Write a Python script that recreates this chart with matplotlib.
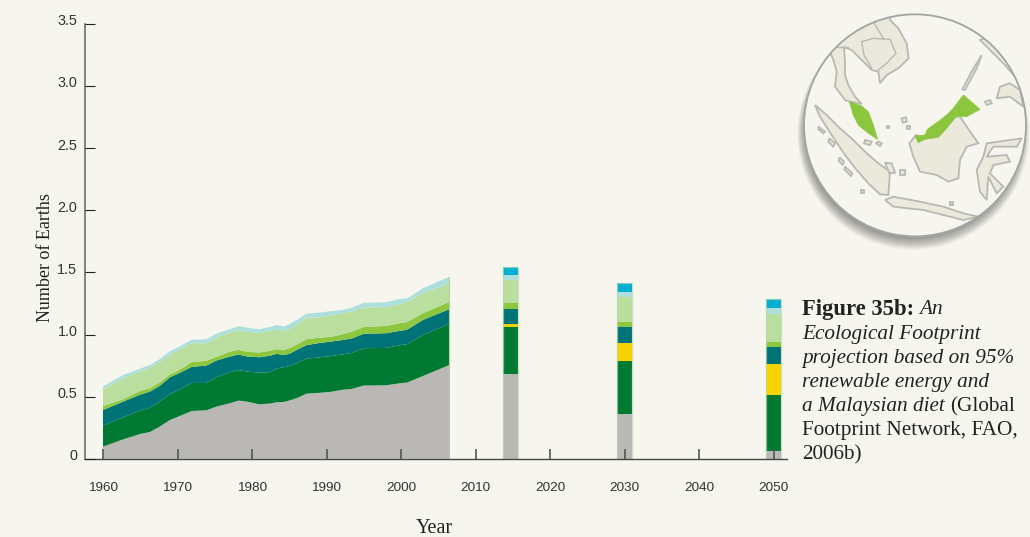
import matplotlib
matplotlib.use("Agg")
import matplotlib.pyplot as plt
from matplotlib.patches import Circle, Polygon
from matplotlib.transforms import ScaledTranslation

BG = "#f6f5ee"
years = [1960, 1962.7, 1965, 1966.3, 1967.6, 1969, 1970, 1971.9, 1973.9, 1975.2, 1977, 1978.2,
         1979.3, 1981, 1982.4, 1983.3, 1984.3, 1985, 1986.2, 1987.3, 1989, 1990.5, 1992.3,
         1993.4, 1995, 1998, 1999.9, 2000.8, 2003, 2006.5]
built = [.097, .156, .199, .215, .258, .312, .336, .384, .390, .419, .446, .468, .460, .438, .444,
         .454, .457, .468, .492, .524, .530, .538, .556, .562, .589, .591, .608, .613, .667, .755]
forest = [.169, .177, .188, .196, .202, .210, .212, .226, .220, .237, .250, .245, .242, .255, .253,
          .272, .280, .277, .282, .282, .285, .288, .285, .290, .301, .301, .306, .309, .331, .331]
fishing = [.126, .126, .129, .129, .126, .134, .134, .129, .140, .134, .126, .126, .121, .124, .132,
           .118, .099, .099, .108, .108, .116, .116, .116, .116, .116, .118, .116, .116, .121, .118]
grazing = [.032, .019, .030, .027, .027, .024, .024, .038, .038, .030, .038, .038, .038, .038, .040,
           .038, .040, .046, .043, .048, .043, .038, .048, .054, .054, .059, .062, .062, .054, .059]
crop = [.134, .169, .156, .167, .164, .156, .164, .153, .142, .156, .156, .156, .161, .156, .161,
        .156, .156, .153, .161, .175, .164, .172, .167, .164, .156, .151, .153, .159, .161, .151]
carbon = [.024, .027, .024, .019, .024, .030, .024, .027, .032, .030, .027, .035, .032, .032, .030,
          .038, .032, .040, .038, .032, .038, .035, .027, .030, .038, .040, .043, .030, .040, .051]

bar_years = [2014.7, 2030, 2050]
bar_built = [.683, .363, .059]
bar_forest = [.374, .425, .457]
bar_yellow = [.030, .145, .250]
bar_fishing = [.121, .124, .137]
bar_grazing = [.048, .040, .040]
bar_crop = [.180, .204, .226]
bar_carbon = [.040, .038, .046]
bar_cyan = [.065, .075, .070]

area_colors = ["#b9b8b5", "#007a33", "#007377", "#8dc63f", "#b9de9d", "#ade0dd"]
bar_series = [(bar_built, "#b9b8b5"), (bar_forest, "#007a33"), (bar_yellow, "#f7d300"),
              (bar_fishing, "#007377"), (bar_grazing, "#8dc63f"), (bar_crop, "#b9de9d"),
              (bar_carbon, "#ade0dd"), (bar_cyan, "#00aed1")]

y_ticks = [0, 0.5, 1.0, 1.5, 2.0, 2.5, 3.0, 3.5]
y_labels = ["0", "0.5", "1.0", "1.5", "2.0", "2.5", "3.0", "3.5"]
x_ticks = [1960, 1970, 1980, 1990, 2000, 2010, 2020, 2030, 2040, 2050]

W, H = 1030, 537
fig = plt.figure(figsize=(W / 100, H / 100), dpi=100, facecolor=BG)
ax = fig.add_axes([85 / W, (H - 458.7) / H, 702 / W, 434.7 / H], facecolor=BG)

ax.stackplot(years, built, forest, fishing, grazing, crop, carbon, colors=area_colors, lw=0)
ax.plot([years[-1]] * 2, [0, sum(s[-1] for s in (built, forest, fishing, grazing, crop, carbon))],
        color="#b5cfa8", lw=0.8)

bottoms = [0.0, 0.0, 0.0]
for vals, c in bar_series:
    ax.bar(bar_years, vals, bottom=bottoms, width=1.95, color=c, lw=0)
    bottoms = [b + v for b, v in zip(bottoms, vals)]
ax.bar(bar_years, bottoms, width=2.05, fill=False, edgecolor="#b9d9b0", lw=0.9, alpha=0.7)

ax.set_xlim(1960 + (85 - 103) / 7.45, 1960 + (787 - 103) / 7.45)
ax.set_ylim(0, 3.5)
ax.spines["top"].set_visible(False)
ax.spines["right"].set_visible(False)
ax.spines["left"].set_color("#6e6e6e")
ax.spines["left"].set_linewidth(1.2)
ax.spines["bottom"].set_color("#444444")
ax.spines["bottom"].set_linewidth(1.0)
ax.set_axisbelow(False)
ax.set_xticks(x_ticks)
ax.set_xticklabels([str(v) for v in x_ticks])
ax.set_yticks(y_ticks)
ax.set_yticklabels(y_labels)
ax.tick_params(axis="x", direction="in", length=7.2, width=1.2, color="#555555", pad=16.5,
               labelsize=9.7, labelcolor="#333333")
ax.tick_params(axis="y", direction="in", length=7.2, width=0.8, color="#222222", pad=5.5,
               labelsize=10.4, labelcolor="#333333")
for t in ax.get_xticklabels() + ax.get_yticklabels():
    t.set_family("Liberation Sans")
shift = ScaledTranslation(0, 3 / 72, fig.dpi_scale_trans)
for t in ax.get_yticklabels():
    t.set_transform(t.get_transform() + shift)

fig.text(46 / W, 1 - 258 / H, "Number of Earths", rotation=90, ha="center", va="center",
         family="Liberation Serif", fontsize=13, color="#222222")
fig.text(434 / W, 1 - 528.5 / H, "Year", ha="center", va="center",
         family="Liberation Serif", fontsize=14.5, color="#222222")

# Caption
renderer = fig.canvas.get_renderer()
def cap_line(y, parts):
    x = 802.0
    for text, style, weight, size in parts:
        t = fig.text(x / W, 1 - y / H, text, style=style, weight=weight, fontsize=size,
                     family="Liberation Serif", color="#222222", va="baseline", ha="left")
        x = t.get_window_extent(renderer).x1 + 5
cap_line(314.5, [("Figure 35b:", "normal", "bold", 16.3), ("An", "italic", "normal", 15.3)])
cap_line(339, [("Ecological Footprint", "italic", "normal", 15.3)])
cap_line(363, [("projection based on 95%", "italic", "normal", 15.3)])
cap_line(387, [("renewable energy and", "italic", "normal", 15.3)])
cap_line(411, [("a Malaysian diet", "italic", "normal", 15.3), ("(Global", "normal", "normal", 15.3)])
cap_line(435, [("Footprint Network, FAO,", "normal", "normal", 15.3)])
cap_line(459, [("2006b)", "normal", "normal", 15.3)])

# Locator globe, traced in 3x crop coordinates
m = fig.add_axes([790 / W, (H - 250) / H, 240 / W, 250 / H], facecolor="none")
m.set_xlim(0, 720)
m.set_ylim(750, 0)
m.axis("off")
for i in range(20):
    m.add_patch(Circle((370, 402 - i * 0.6), 348 - i * 1.2, fc="#000000", ec="none",
                       alpha=0.018, clip_on=False))
disc = Circle((375, 376), 333, fc=BG, ec="none", zorder=2)
m.add_patch(disc)

LAND, EDGE, GREEN = "#ebe8dc", "#b9b9b3", "#8cc63f"
mainland = [(100, 90), (300, 30), (300, 60), (325, 85), (350, 130), (356, 175), (325, 205), (290, 225),
            (270, 250), (265, 215), (245, 210), (215, 180), (185, 150), (162, 142), (165, 185), (165, 225),
            (175, 255), (195, 290), (215, 312), (180, 305), (165, 300), (135, 260), (140, 215), (130, 180),
            (122, 160)]
sumatra = [(75, 315), (110, 345), (150, 385), (190, 420), (225, 455), (265, 490), (300, 515), (295, 585),
           (270, 583), (235, 550), (200, 510), (165, 465), (125, 405), (90, 350)]
borneo = [(378, 405), (405, 415), (465, 350), (510, 350), (530, 380), (565, 430), (530, 440), (510, 480),
          (505, 535), (475, 545), (440, 525), (390, 515), (370, 470), (358, 430)]
java = [(285, 600), (310, 590), (390, 605), (460, 620), (520, 640), (565, 650), (520, 660), (460, 645),
        (400, 630), (310, 620)]
sulawesi = [(590, 430), (695, 415), (680, 440), (610, 440), (590, 470), (650, 465), (660, 485), (610, 495),
            (600, 520), (640, 560), (620, 580), (595, 530), (590, 600), (570, 575), (560, 510), (580, 470)]
palawan = [(575, 165), (560, 205), (525, 270), (517, 268), (545, 215)]
phil_a = [(570, 120), (600, 150), (640, 190), (680, 235), (720, 260), (720, 100), (640, 90)]
phil_b = [(620, 295), (630, 260), (660, 250), (690, 270), (700, 320), (660, 290)]
islets = [[(335, 355), (348, 352), (350, 365), (338, 368)], [(330, 510), (345, 510), (345, 525), (330, 525)],
          [(290, 378), (298, 378), (298, 385), (290, 385)], [(352, 379), (360, 379), (360, 386), (352, 386)],
          [(214, 571), (223, 571), (223, 578), (214, 578)], [(481, 607), (490, 607), (490, 614), (481, 614)],
          [(85, 380), (105, 395), (100, 400), (85, 388)], [(118, 415), (135, 430), (130, 440), (115, 425)],
          [(148, 472), (162, 485), (158, 495), (146, 482)], [(165, 500), (187, 520), (183, 528), (163, 508)],
          [(265, 425), (275, 430), (270, 438), (258, 430)], [(225, 420), (245, 425), (240, 435), (222, 430)],
          [(285, 488), (305, 490), (315, 518), (298, 520)], [(585, 305), (600, 300), (605, 310), (590, 315)]]
for poly in [mainland, sumatra, borneo, java, sulawesi, palawan, phil_a, phil_b] + islets:
    p = Polygon(poly, closed=True, fc=LAND, ec=EDGE, lw=1.3, zorder=3)
    m.add_patch(p)
    p.set_clip_path(disc)
for line in [[(215, 125), (250, 115), (300, 118), (318, 160), (290, 190), (265, 210)],
             [(215, 125), (222, 165), (245, 205)], [(250, 65), (280, 115)], [(140, 140), (175, 140)]]:
    l, = m.plot(*zip(*line), color=EDGE, lw=1.0, zorder=3)
    l.set_clip_path(disc)
peninsula = [(178, 305), (215, 318), (235, 335), (250, 375), (263, 418), (235, 400), (205, 375), (190, 345)]
sabah = [(375, 408), (405, 405), (412, 388), (465, 350), (490, 325), (520, 285), (570, 328), (530, 350),
         (500, 348), (470, 385), (445, 412), (405, 418), (385, 428)]
for poly in [peninsula, sabah]:
    m.add_patch(Polygon(poly, closed=True, fc=GREEN, ec=GREEN, lw=0.5, zorder=4))
m.add_patch(Circle((375, 376), 333, fc="none", ec="#a3a5a3", lw=1.3, zorder=5))

fig.savefig("out.png", dpi=100, facecolor=BG)
